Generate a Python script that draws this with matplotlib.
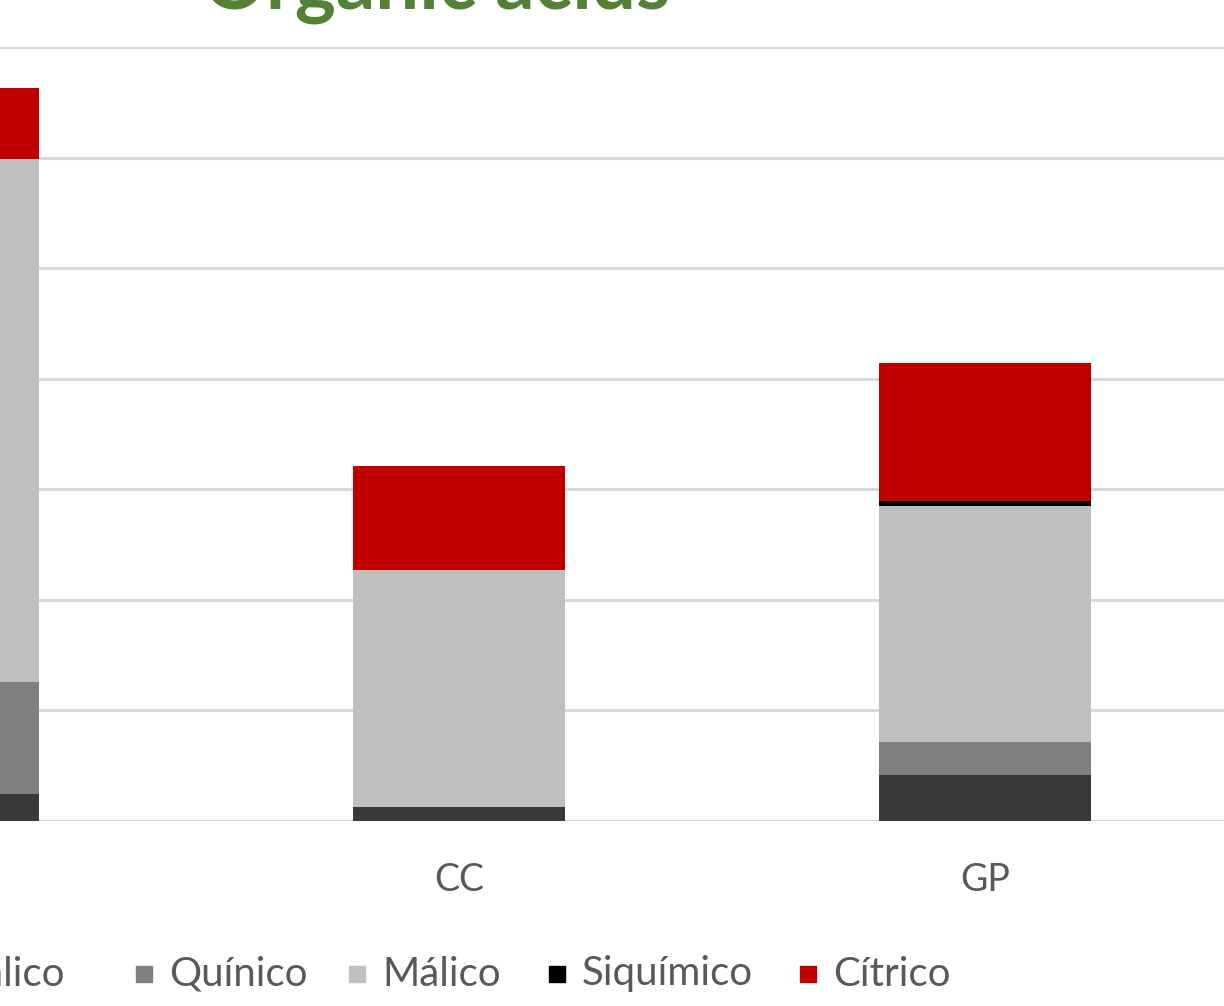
import matplotlib.pyplot as plt
from matplotlib.patches import Rectangle

# data (values in gridline units)
categories = ["CS", "CC", "GP"]
series = ["Oxálico", "Quínico", "Málico", "Siquímico", "Cítrico"]
oxalico = [0.24, 0.13, 0.42]
quinico = [1.02, 0.0, 0.29]
malico = [4.73, 2.14, 2.14]
siquimico = [0.0, 0.0, 0.045]
citrico = [0.64, 0.94, 1.25]
values = [oxalico, quinico, malico, siquimico, citrico]
colors = ["#3A3838", "#7F7F7F", "#BFBFBF", "#000000", "#C00000"]

W, H = 1224, 1006
plt.rcParams["font.family"] = ["Lato", "DejaVu Sans"]
fig = plt.figure(figsize=(W / 100, H / 100), dpi=100)

# the reference is a crop of a wider chart: the plot area starts off-canvas
ax = fig.add_axes([-330 / W, 185 / H, 1578 / W, 774 / H])
ax.set_xlim(-0.5, 2.5)
ax.set_ylim(0, 7)

x = range(len(categories))
bottom = [0.0] * len(categories)
for name, vals, c in zip(series, values, colors):
    ax.bar(x, vals, width=0.403, bottom=bottom, color=c, edgecolor="none",
           zorder=3)
    bottom = [b + v for b, v in zip(bottom, vals)]

ax.set_yticks(range(0, 8))
ax.yaxis.grid(True, color="#D9D9D9", linewidth=2.2, zorder=0)
ax.tick_params(axis="y", left=False, labelleft=False)
ax.tick_params(axis="x", bottom=False, labelsize=27, labelcolor="#595959",
               pad=26)
ax.set_xticks(list(x))
ax.set_xticklabels(categories)
for s in ax.spines.values():
    s.set_visible(False)

fig.text(437 / W, 1 - 9 / H, "Organic acids", ha="center", va="baseline",
         fontsize=56, fontweight="bold", color="#538135")

# legend row, drawn by hand to match the cropped layout
sq_x = [-102, 136, 349, 549, 800]
for px, name, c in zip(sq_x, series, colors):
    fig.patches.append(Rectangle((px / W, 1 - 982 / H), 16 / W, 16 / H,
                                 transform=fig.transFigure, color=c))
    fig.text((px + 33) / W, 1 - 974 / H, name, ha="left", va="center",
             fontsize=29, color="#595959")

fig.savefig("out.png", dpi=100)
